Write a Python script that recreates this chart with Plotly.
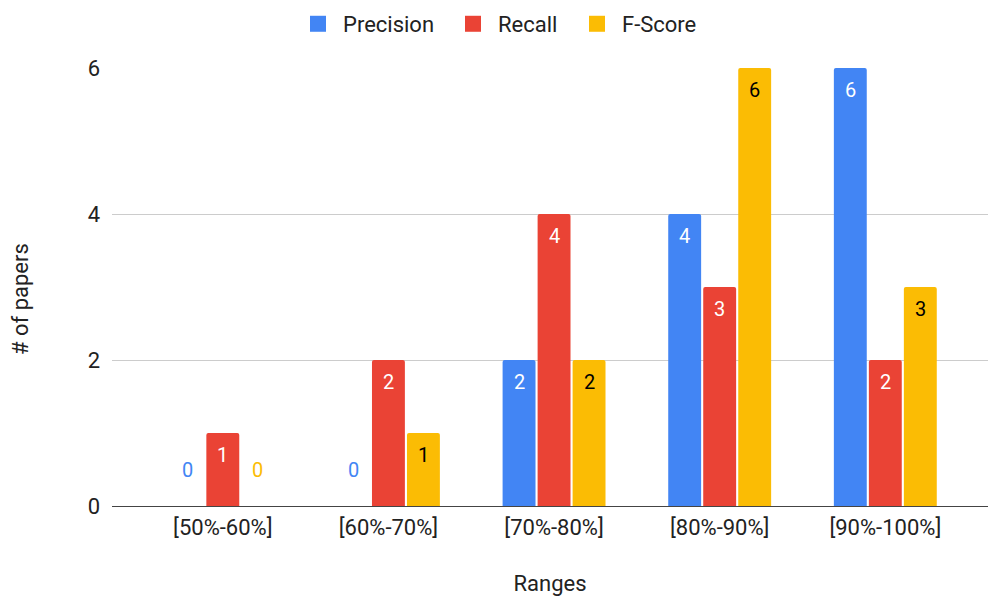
import plotly.graph_objects as go

categories = ["[50%-60%]", "[60%-70%]", "[70%-80%]", "[80%-90%]", "[90%-100%]"]
precision = [0, 0, 2, 4, 6]
recall = [1, 2, 4, 3, 2]
fscore = [0, 1, 2, 6, 3]
series_names = ["Precision", "Recall", "F-Score"]
colors = ["#4285F4", "#EA4335", "#FBBC04"]
text_colors = ["#ffffff", "#ffffff", "#000000"]
y_ticks = [0, 2, 4, 6]

FONT = "Roboto, Arial, sans-serif"
FS = 22
fig = go.Figure()
series = [precision, recall, fscore]
for name, vals, col in zip(series_names, series, colors):
    fig.add_trace(go.Bar(
        name=name, x=categories, y=vals,
        marker=dict(color=col, line=dict(width=0)),
        showlegend=False,
    ))
# legend entries with larger square swatches, one legend per series
legend_ids = ["legend", "legend2", "legend3"]
legend_left_px = [293, 448, 572]
for name, col, lid in zip(series_names, colors, legend_ids):
    fig.add_trace(go.Scatter(
        name=name, x=[None], y=[None], mode="markers",
        marker=dict(symbol="square", size=20, color=col),
        showlegend=True, legend=lid,
    ))

# value labels
offsets = [-35, 0, 35]
annotations = []
for si, vals in enumerate(series):
    for ci, v in enumerate(vals):
        annotations.append(dict(
            x=categories[ci], y=v, xref="x", yref="y",
            text=str(v), showarrow=False,
            xshift=offsets[si], yshift=(36 if v == 0 else -22),
            font=dict(color=(colors[si] if v == 0 else text_colors[si]), size=20, family=FONT),
        ))
# y-axis title
annotations.append(dict(
    text="# of papers", textangle=-90, showarrow=False,
    xref="paper", yref="paper", x=(20 - 112) / 876, y=0.5, yshift=-12,
    xanchor="center", yanchor="middle",
    font=dict(size=FS, color="#222222", family=FONT),
))

legend_common = dict(orientation="h", yref="container", y=0.995, yanchor="top",
                     xref="container", xanchor="left",
                     font=dict(size=FS, color="#222222"), itemwidth=40,
                     itemsizing="trace", bgcolor="rgba(0,0,0,0)")
layout_legends = {}
for lid, lx in zip(legend_ids, legend_left_px):
    layout_legends[lid] = dict(legend_common, x=lx / 988)

fig.update_layout(
    width=988, height=596,
    margin=dict(l=112, r=0, t=68, b=90),
    paper_bgcolor="white", plot_bgcolor="white",
    barmode="group", bargap=0.366, bargroupgap=0.06,
    barcornerradius=2,
    font=dict(family=FONT, size=FS, color="#222222"),
    annotations=annotations,
    **layout_legends,
)
fig.update_xaxes(
    type="category", range=[-0.669, 4.62], showgrid=False, showline=False, zeroline=False,
    ticks="", tickfont=dict(size=FS, color="#222222"), ticklabelstandoff=6,
    title=dict(text="Ranges", font=dict(size=FS, color="#222222"), standoff=37),
)
fig.update_yaxes(
    range=[0, 6], tickvals=y_ticks, showgrid=True, gridcolor="#cccccc", gridwidth=1,
    zeroline=True, zerolinecolor="#444444", zerolinewidth=1,
    showline=False, ticks="", ticklabelstandoff=11,
    tickfont=dict(size=FS, color="#222222"),
)
fig.write_html("out.html")
